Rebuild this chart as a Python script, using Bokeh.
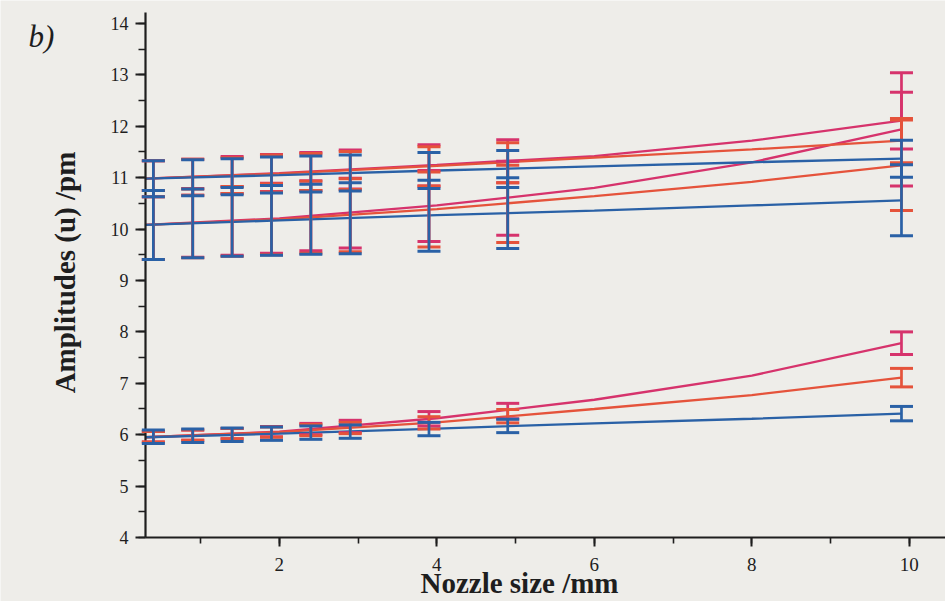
from bokeh.plotting import figure
from bokeh.models import ColumnDataSource, Whisker, TeeHead, Range1d, SingleIntervalTicker, Label
from bokeh.embed import file_html
from bokeh.resources import INLINE

# ---------------- data ----------------
nozzle = [0.4, 0.9, 1.4, 1.9, 2.4, 2.9, 3.9, 4.9, 9.9]

# upper pair, upper amplitude (~11 pm)
hi_blue = [10.98, 11.00, 11.02, 11.05, 11.07, 11.09, 11.14, 11.17, 11.37]
hi_blue_err = [0.35, 0.35, 0.35, 0.35, 0.35, 0.35, 0.35, 0.36, 0.36]
hi_orange = [10.98, 11.01, 11.04, 11.08, 11.11, 11.14, 11.22, 11.29, 11.72]
hi_orange_err = [0.35, 0.35, 0.35, 0.36, 0.36, 0.37, 0.38, 0.39, 0.43]
hi_magenta = [10.98, 11.01, 11.05, 11.09, 11.12, 11.16, 11.24, 11.32, 12.11]
hi_magenta_err = [0.35, 0.35, 0.36, 0.36, 0.37, 0.38, 0.40, 0.42, 0.55]

# upper pair, lower amplitude (~10 pm)
mid_blue = [10.08, 10.11, 10.14, 10.17, 10.19, 10.21, 10.26, 10.31, 10.56]
mid_blue_err = [0.67, 0.67, 0.67, 0.68, 0.68, 0.69, 0.69, 0.69, 0.69]
mid_orange = [10.08, 10.11, 10.15, 10.19, 10.23, 10.27, 10.38, 10.49, 11.24]
mid_orange_err = [0.67, 0.67, 0.68, 0.69, 0.70, 0.71, 0.73, 0.75, 0.88]
mid_magenta = [10.08, 10.12, 10.16, 10.21, 10.26, 10.31, 10.45, 10.60, 11.94]
mid_magenta_err = [0.67, 0.67, 0.67, 0.68, 0.68, 0.68, 0.69, 0.72, 1.10]

# lower set (~6 pm)
lo_blue = [5.96, 5.98, 6.00, 6.02, 6.04, 6.06, 6.11, 6.17, 6.41]
lo_blue_err = [0.13, 0.13, 0.13, 0.13, 0.13, 0.13, 0.13, 0.13, 0.14]
lo_orange = [5.96, 5.99, 6.02, 6.05, 6.09, 6.13, 6.23, 6.36, 7.11]
lo_orange_err = [0.10, 0.10, 0.10, 0.10, 0.11, 0.11, 0.12, 0.13, 0.18]
lo_magenta = [5.96, 5.99, 6.02, 6.06, 6.11, 6.16, 6.31, 6.46, 7.78]
lo_magenta_err = [0.10, 0.10, 0.10, 0.10, 0.11, 0.12, 0.14, 0.15, 0.22]

# fitted curves
fit_x = [0.3, 2, 4, 6, 8, 9.9]
fit_hi_blue = [10.98, 11.05, 11.14, 11.22, 11.30, 11.37]
fit_hi_orange = [10.98, 11.08, 11.23, 11.39, 11.55, 11.72]
fit_hi_magenta = [10.98, 11.09, 11.25, 11.42, 11.72, 12.11]
fit_mid_blue = [10.08, 10.17, 10.27, 10.36, 10.46, 10.56]
fit_mid_orange = [10.08, 10.19, 10.39, 10.64, 10.92, 11.24]
fit_mid_magenta = [10.08, 10.21, 10.46, 10.80, 11.30, 11.94]
fit_lo_blue = [5.95, 6.02, 6.12, 6.22, 6.31, 6.41]
fit_lo_orange = [5.95, 6.05, 6.24, 6.50, 6.77, 7.11]
fit_lo_magenta = [5.95, 6.06, 6.32, 6.68, 7.15, 7.78]

x_label = "Nozzle size /mm"
y_label = "Amplitudes (u) /pm"
panel_label = "b)"

# axis extents (data units)
x_axis_span = (0.3, 10.46)
y_axis_span = (4, 14.21)

# ---------------- style ----------------
BLUE = "#2a61a6"
ORANGE = "#e5533b"
MAGENTA = "#d6336c"
BG = "#eeede9"
INK = "#1e1e1e"
SERIF = "Liberation Serif"

# the frame fills the whole canvas; the axes sit at fixed positions inside it
p = figure(width=945, height=601, output_backend="svg", toolbar_location=None,
           x_range=Range1d(-1.541, 10.459), y_range=Range1d(2.755, 14.447),
           min_border_left=0, min_border_right=0, min_border_top=0, min_border_bottom=0)
p.background_fill_color = BG
p.border_fill_color = BG
p.outline_line_color = None
p.xgrid.visible = False
p.ygrid.visible = False

p.xaxis.fixed_location = y_axis_span[0]
p.xaxis.bounds = x_axis_span
p.yaxis.fixed_location = x_axis_span[0]
p.yaxis.bounds = y_axis_span

p.xaxis.ticker = SingleIntervalTicker(interval=2, num_minor_ticks=2)
p.yaxis.ticker = SingleIntervalTicker(interval=1, num_minor_ticks=2)
for ax in (p.xaxis, p.yaxis):
    ax.axis_line_color = INK
    ax.axis_line_width = 2.2
    ax.major_tick_line_color = INK
    ax.major_tick_line_width = 2
    ax.minor_tick_line_color = INK
    ax.minor_tick_line_width = 1.6
    ax.major_tick_in = 0
    ax.minor_tick_in = 0
    ax.major_label_text_font = SERIF
    ax.major_label_text_color = INK
p.yaxis.major_tick_out = 10
p.yaxis.minor_tick_out = 7
p.yaxis.major_label_standoff = 7
p.yaxis.major_label_text_font_size = "18px"
p.xaxis.major_tick_out = 9
p.xaxis.minor_tick_out = 6
p.xaxis.major_label_standoff = 11
p.xaxis.major_label_text_font_size = "19px"

series = [
    (MAGENTA, fit_hi_magenta, fit_mid_magenta, fit_lo_magenta,
     [(hi_magenta, hi_magenta_err), (mid_magenta, mid_magenta_err), (lo_magenta, lo_magenta_err)]),
    (ORANGE, fit_hi_orange, fit_mid_orange, fit_lo_orange,
     [(hi_orange, hi_orange_err), (mid_orange, mid_orange_err), (lo_orange, lo_orange_err)]),
    (BLUE, fit_hi_blue, fit_mid_blue, fit_lo_blue,
     [(hi_blue, hi_blue_err), (mid_blue, mid_blue_err), (lo_blue, lo_blue_err)]),
]

for color, f1, f2, f3, pts in series:
    for f in (f1, f2, f3):
        p.line(fit_x, f, line_color=color, line_width=2.3)

for color, f1, f2, f3, pts in series:
    for vals, errs in pts:
        src = ColumnDataSource(dict(
            x=nozzle,
            upper=[v + e for v, e in zip(vals, errs)],
            lower=[v - e for v, e in zip(vals, errs)],
        ))
        w = Whisker(source=src, base="x", upper="upper", lower="lower",
                    line_color=color, line_width=2.7, level="annotation",
                    upper_head=TeeHead(size=23, line_color=color, line_width=3),
                    lower_head=TeeHead(size=23, line_color=color, line_width=3))
        p.add_layout(w)

# axis titles and panel letter, anchored to the axis corner
p.add_layout(Label(x=x_axis_span[0], y=y_axis_span[0], x_offset=374, y_offset=-61, text=x_label,
                   text_align="center", text_baseline="bottom",
                   text_font=SERIF, text_font_style="bold",
                   text_font_size="29px", text_color=INK))
p.add_layout(Label(x=x_axis_span[0], y=y_axis_span[0], x_offset=-80, y_offset=265, text=y_label,
                   angle=1.5707963, text_align="center", text_baseline="alphabetic",
                   text_font=SERIF, text_font_style="bold",
                   text_font_size="29px", text_color=INK))
p.add_layout(Label(x=x_axis_span[0], y=14, x_offset=-117, y_offset=4, text=panel_label,
                   text_align="left", text_baseline="top",
                   text_font=SERIF, text_font_style="italic",
                   text_font_size="31px", text_color=INK))

html = file_html(p, INLINE)
html = html.replace("<body>", '<body style="background-color:%s;">' % BG, 1)
open("out.html", "w").write(html)
